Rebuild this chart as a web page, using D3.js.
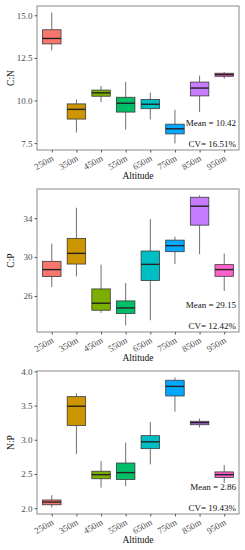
<!DOCTYPE html>
<html><head><meta charset="utf-8">
<script src="https://cdn.jsdelivr.net/npm/d3@7"></script>
<style>body{margin:0;background:#fff}svg{display:block}</style>
</head><body>
<script>
const altitudes = ["250m","350m","450m","550m","650m","750m","850m","950m"];
const colors = ["#F8766D","#CD9600","#7CAE00","#00BE67","#00BFC4","#00A9FF","#C77CFF","#FF61CC"];
// [whiskerLow, q1, median, q3, whiskerHigh]
const cnStats = [
  [12.94,13.32,13.64,14.15,15.16],
  [8.12,8.91,9.48,9.80,10.06],
  [9.90,10.25,10.45,10.61,10.85],
  [8.29,9.32,9.84,10.19,11.10],
  [8.89,9.52,9.78,10.06,10.47],
  [7.48,8.04,8.34,8.61,9.46],
  [9.32,10.27,10.73,11.08,11.46],
  [11.28,11.42,11.52,11.60,11.66]
];
const cpStats = [
  [26.92,27.99,28.71,29.56,31.37],
  [28.02,29.28,30.38,31.92,35.07],
  [24.26,24.53,25.25,26.72,29.22],
  [22.96,24.19,24.77,25.49,27.33],
  [23.50,27.58,29.25,30.62,33.90],
  [29.28,30.55,31.17,31.74,32.09],
  [30.28,33.28,35.23,36.15,36.33],
  [26.51,28.02,28.71,29.22,30.35]
];
const npStats = [
  [2.01,2.05,2.09,2.12,2.19],
  [2.79,3.21,3.49,3.63,3.68],
  [2.30,2.43,2.49,2.54,2.69],
  [2.32,2.42,2.52,2.66,2.96],
  [2.64,2.87,2.97,3.06,3.26],
  [3.41,3.64,3.78,3.87,3.91],
  [3.18,3.22,3.25,3.27,3.31],
  [2.37,2.45,2.49,2.53,2.63]
];
const cnTicks = [7.5,10.0,12.5,15.0];
const cpTicks = [26,30,34];
const npTicks = [2.0,2.5,3.0,3.5,4.0];
const yTitles = ["C:N","C:P","N:P"];
const meanLabels = ["Mean = 10.42","Mean = 29.15","Mean = 2.86"];
const cvLabels = ["CV= 16.51%","CV= 12.42%","CV= 19.43%"];
const xTitle = "Altitude";

const W = 245, H = 550;
const svg = d3.select("body").append("svg").attr("width", W).attr("height", H);
const FONT = "'Liberation Serif','Times New Roman',serif";

const panels = [
  {stats: cnStats, ticks: cnTicks, fmt: d3.format(".1f"), top: 6, bottom: 150, titleY: 179},
  {stats: cpStats, ticks: cpTicks, fmt: d3.format("d"), top: 189, bottom: 332, titleY: 361},
  {stats: npStats, ticks: npTicks, fmt: d3.format(".1f"), top: 371, bottom: 514, titleY: 543}
];
const left = 37, right = 239;

panels.forEach((p, pi) => {
  const g = svg.append("g");
  const x = d3.scalePoint().domain(altitudes).range([left, right]).padding(0.6);
  const lo = d3.min(p.stats, d => d[0]), hi = d3.max(p.stats, d => d[4]);
  const pad = (hi - lo) * 0.05;
  const y = d3.scaleLinear().domain([lo - pad, hi + pad]).range([p.bottom, p.top]);
  const bw = x.step() * 0.75;

  // boxes
  altitudes.forEach((a, i) => {
    const s = p.stats[i], cx = x(a);
    g.append("line").attr("x1", cx).attr("x2", cx).attr("y1", y(s[3])).attr("y2", y(s[4]))
      .attr("stroke", "#707070").attr("stroke-width", 1);
    g.append("line").attr("x1", cx).attr("x2", cx).attr("y1", y(s[0])).attr("y2", y(s[1]))
      .attr("stroke", "#707070").attr("stroke-width", 1);
    g.append("rect").attr("x", cx - bw / 2).attr("y", y(s[3])).attr("width", bw)
      .attr("height", Math.max(0.5, y(s[1]) - y(s[3])))
      .attr("fill", colors[i]).attr("stroke", "#3a3a3a").attr("stroke-width", 0.8);
    g.append("line").attr("x1", cx - bw / 2).attr("x2", cx + bw / 2).attr("y1", y(s[2])).attr("y2", y(s[2]))
      .attr("stroke", "#222").attr("stroke-width", 1.4);
  });

  // frame
  g.append("rect").attr("x", left).attr("y", p.top).attr("width", right - left).attr("height", p.bottom - p.top)
    .attr("fill", "none").attr("stroke", "#8a8a8a").attr("stroke-width", 1);

  // y axis
  const ya = g.append("g").attr("transform", `translate(${left},0)`)
    .call(d3.axisLeft(y).tickValues(p.ticks).tickFormat(p.fmt).tickSize(2.5).tickPadding(2));
  ya.select(".domain").remove();
  ya.selectAll("line").attr("stroke", "#555");
  ya.selectAll("text").attr("fill", "#4d4d4d").style("font-family", FONT).style("font-size", "9px");

  // x axis
  const xa = g.append("g").attr("transform", `translate(0,${p.bottom})`)
    .call(d3.axisBottom(x).tickSize(2.5));
  xa.select(".domain").remove();
  xa.selectAll("line").attr("stroke", "#555");
  xa.selectAll("text").attr("fill", "#4d4d4d").style("font-family", FONT).style("font-size", "9px")
    .attr("text-anchor", "end").attr("dy", null).attr("y", 0)
    .attr("transform", "translate(2,10) rotate(-30)");

  // titles
  g.append("text").attr("x", (left + right) / 2).attr("y", p.titleY).attr("text-anchor", "middle")
    .style("font-family", FONT).style("font-size", "9.5px").attr("fill", "#111").text(xTitle);
  g.append("text").attr("transform", `translate(14,${(p.top + p.bottom) / 2}) rotate(-90)`)
    .attr("text-anchor", "middle").style("font-family", FONT).style("font-size", "9.5px").attr("fill", "#111")
    .text(yTitles[pi]);

  // annotations
  g.append("text").attr("x", 236).attr("y", p.bottom - 27).attr("dy", "0.35em").attr("text-anchor", "end")
    .style("font-family", FONT).style("font-size", "9px").attr("fill", "#111").text(meanLabels[pi]);
  g.append("text").attr("x", 236).attr("y", p.bottom - 6).attr("dy", "0.35em").attr("text-anchor", "end")
    .style("font-family", FONT).style("font-size", "9px").attr("fill", "#111").text(cvLabels[pi]);
});
</script>
</body></html>
